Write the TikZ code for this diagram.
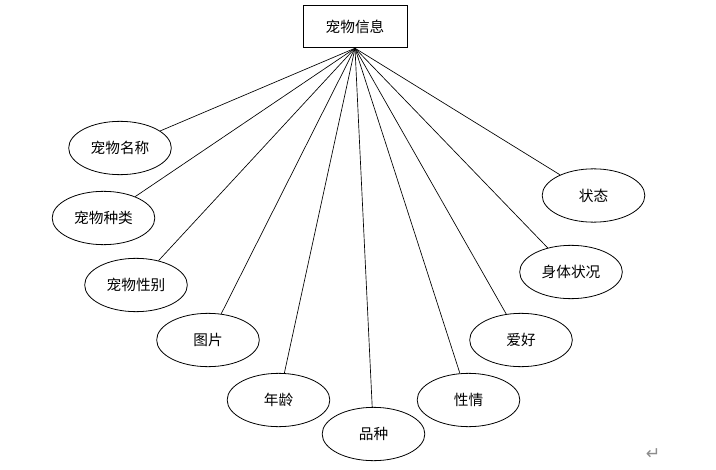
\documentclass[tikz,border=0pt]{standalone}
\usepackage{fontspec}
\newfontfamily\cjk{Noto Sans CJK SC}
\newfontfamily\symfont{DejaVu Sans}
\usepackage{tikz}
\tikzset{
  entitybox/.style={
    rectangle,
    draw,
    line width=0.6pt,
    minimum width=78pt,
    minimum height=32pt,
    inner sep=0pt,
    font=\cjk\fontsize{11}{13}\selectfont
  },
  attrnode/.style={
    ellipse,
    draw,
    line width=0.6pt,
    minimum width=77pt,
    minimum height=40pt,
    inner sep=0pt,
    font=\cjk\fontsize{11}{13}\selectfont
  },
  attrline/.style={
    line width=0.5pt
  }
}
\usetikzlibrary{shapes.geometric}
\begin{document}
\begin{tikzpicture}[x=0.75pt,y=-0.75pt]
  \useasboundingbox (0,0) rectangle (716,470);
  \node[entitybox] (pet) at (355,26.5) {宠物信息};

  % attributes, left to right along the arc
  \node[attrnode] (name) at (120,148) {宠物名称};
  \node[attrnode] (kind) at (103.5,218) {宠物种类};
  \node[attrnode] (sex) at (136,285) {宠物性别};
  \node[attrnode] (pic) at (208,340) {图片};
  \node[attrnode] (age) at (278.5,400) {年龄};
  \node[attrnode] (breed) at (373.5,434) {品种};
  \node[attrnode] (temper) at (468.5,400) {性情};
  \node[attrnode] (hobby) at (521,340) {爱好};
  \node[attrnode] (health) at (571,272) {身体状况};
  \node[attrnode] (state) at (593.5,195.5) {状态};

  \foreach \a in {name,kind,sex,pic,age,breed,temper,hobby,health,state}
    \draw[attrline] (pet.south) -- (\a);

  \node[font=\symfont\fontsize{13}{15}\selectfont,text=black!45] (ret) at (653,454) {↵};
\end{tikzpicture}
\end{document}
